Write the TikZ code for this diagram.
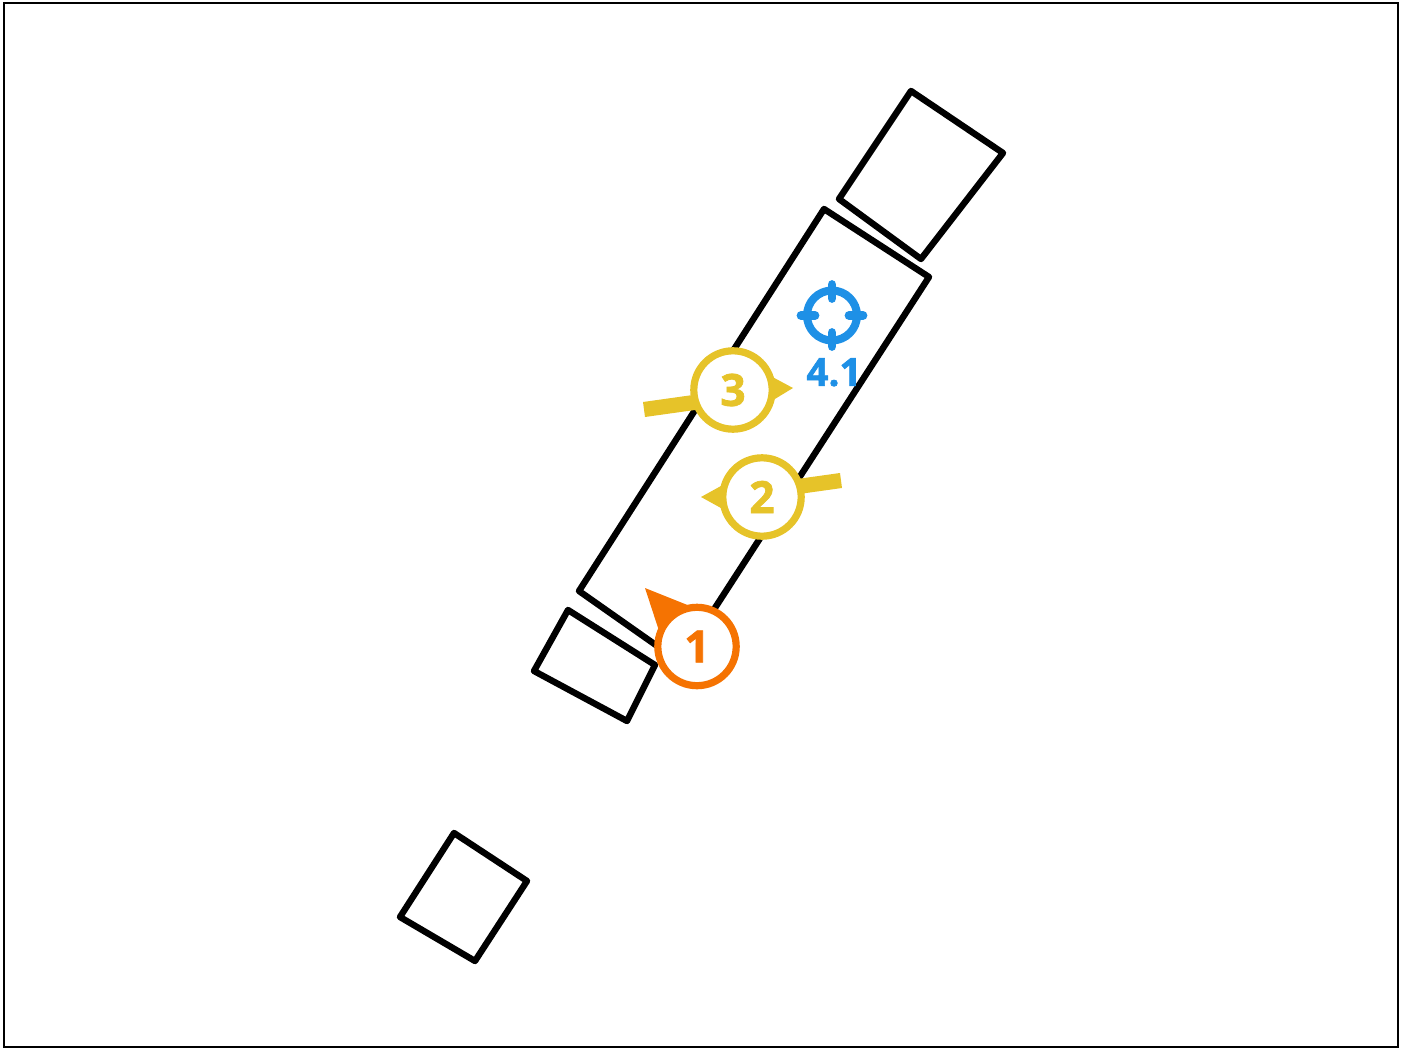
\documentclass[tikz,border=0pt]{standalone}
\usepackage{fontspec}
\setmainfont[BoldFeatures={FakeBold=1.6}]{Open Sans}
\usepackage{xcolor}
\usetikzlibrary{positioning,calc}
\definecolor{markOrange}{HTML}{F57302}
\definecolor{markYellow}{HTML}{E6C329}
\definecolor{markBlue}{HTML}{1E90E6}
\tikzset{
  outline/.style={draw=black,line width=0.32cm,line join=round},
  marker/.style={circle,draw=#1,fill=white,line width=0.36cm,minimum size=3.92cm,inner sep=0pt,text=#1,font=\fontsize{63}{63}\selectfont\bfseries},
  tick/.style={draw=markBlue,line width=0.44cm,line cap=round}
}
\begin{document}
\begin{tikzpicture}[x=0.05cm,y=-0.05cm]
  \useasboundingbox (0,0) rectangle (1405,1048);
  \draw[black,line width=0.14cm] (4,3) rectangle (1398,1047);

  % the four outlines
  \draw[outline] (911,91) -- (1003,153) -- (921,259) -- (839,199) -- cycle;
  \draw[outline] (824,209) -- (929,277) -- (680,662) -- (579,591) -- cycle;
  \draw[outline] (568,610) -- (655,665) -- (627,721) -- (534,671) -- cycle;
  \draw[outline] (454,833) -- (527,881) -- (475,961) -- (400,917) -- cycle;

  % pointers under the markers
  \fill[markOrange] (645,588) -- (695,608) -- (662,640) -- cycle;
  \fill[markYellow] (793,388) -- (765,373) -- (765,405) -- cycle;
  \fill[markYellow] (643,402) -- (700,394) -- (702,409) -- (645,417) -- cycle;
  \fill[markYellow] (701,497) -- (730,481) -- (730,513) -- cycle;
  \fill[markYellow] (840,473) -- (790,480) -- (792,495) -- (842,488) -- cycle;

  % numbered markers
  \node[marker=markOrange] (mOne) at (697,646.5) {1};
  \node[marker=markYellow] (mTwo) at (762,497) {2};
  \node[marker=markYellow] (mThree) at (733,390) {3};

  % target
  \node[circle,draw=markBlue,line width=0.4cm,minimum size=2.5cm,inner sep=0pt] (aim) at (832,315.5) {};
  \foreach \dx/\dy in {1/0,-1/0,0/1,0/-1}{
    \draw[tick] ($(aim)+(17*\dx,17*\dy)$) -- ($(aim)+(31*\dx,31*\dy)$);
  }
  \node[text=markBlue,font=\fontsize{55}{55}\selectfont\bfseries,inner sep=0pt,below=0.68cm of aim,xshift=0.1cm] (aimLab) {4.1};
\end{tikzpicture}
\end{document}
